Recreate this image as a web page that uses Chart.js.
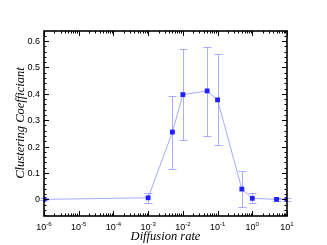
<!DOCTYPE html>
<html>
<head>
<meta charset="utf-8">
<script src="https://cdn.jsdelivr.net/npm/chart.js@4/dist/chart.umd.min.js"></script>
<style>
  html, body { margin: 0; padding: 0; background: #fff; }
  #wrap { width: 327px; height: 245px; }
</style>
</head>
<body>
<div id="wrap"><canvas id="chart" width="327" height="245"></canvas></div>
<script>
// данные
const diffusionRates = [1e-6, 1e-3, 5e-3, 1e-2, 5e-2, 1e-1, 5e-1, 1, 5, 10];
const clustering     = [0.0, 0.006, 0.255, 0.397, 0.411, 0.377, 0.039, 0.004, 0.0, 0.0];
const errHigh        = [0.004, 0.025, 0.393, 0.568, 0.578, 0.549, 0.107, 0.025, 0.007, 0.006];
const errLow         = [-0.004, -0.013, 0.116, 0.225, 0.240, 0.205, -0.028, -0.015, -0.007, -0.006];
const yTicks = [0, 0.1, 0.2, 0.3, 0.4, 0.5, 0.6];
const yTickLabels = ['0', '0.1', '0.2', '0.3', '0.4', '0.5', '0.6'];
const xExponents = [-6, -5, -4, -3, -2, -1, 0, 1];

const lineColor = 'rgba(140,140,255,0.75)';
const markColor = '#1f1fff';
const tickFont = '"Liberation Sans", Arial, sans-serif';

// рамка, засечки внутрь, подписи и планки погрешностей
const framePlugin = {
    id: 'frame',
    beforeDatasetsDraw(chart) {
        const ctx = chart.ctx;
        const xs = chart.scales.x, ys = chart.scales.y;
        ctx.save();
        ctx.strokeStyle = 'rgba(150,150,255,0.8)';
        ctx.lineWidth = 1;
        diffusionRates.forEach((r, i) => {
            const px = Math.round(xs.getPixelForValue(r)) + 0.5;
            const top = Math.round(ys.getPixelForValue(errHigh[i])) + 0.5;
            const bot = Math.round(ys.getPixelForValue(errLow[i])) + 0.5;
            ctx.beginPath();
            ctx.moveTo(px, top); ctx.lineTo(px, bot);
            ctx.moveTo(px - 4, top); ctx.lineTo(px + 4, top);
            ctx.moveTo(px - 4, bot); ctx.lineTo(px + 4, bot);
            ctx.stroke();
        });
        ctx.restore();
    },
    afterDraw(chart) {
        const ctx = chart.ctx;
        const a = chart.chartArea;
        const xs = chart.scales.x, ys = chart.scales.y;
        ctx.save();
        ctx.strokeStyle = '#000';
        ctx.lineWidth = 1;

        // засечки по Y
        for (let k = -3; k <= 31; k++) {
            const vv = k * 0.02;
            const py = Math.round(ys.getPixelForValue(vv)) + 0.5;
            const len = k % 5 === 0 ? 5 : 2.5;
            ctx.beginPath();
            ctx.moveTo(a.left, py); ctx.lineTo(a.left + len, py);
            ctx.moveTo(a.right, py); ctx.lineTo(a.right - len, py);
            ctx.stroke();
        }
        // засечки по X (логарифмические)
        for (let e = -6; e <= 1; e++) {
            for (let m = 1; m <= 9; m++) {
                const v = m * Math.pow(10, e);
                if (v > 10 * 1.0001) continue;
                const px = Math.round(xs.getPixelForValue(v)) + 0.5;
                const len = m === 1 ? 5 : 2.5;
                ctx.beginPath();
                ctx.moveTo(px, a.bottom); ctx.lineTo(px, a.bottom - len);
                ctx.moveTo(px, a.top); ctx.lineTo(px, a.top + len);
                ctx.stroke();
            }
        }
        // рамка
        ctx.lineWidth = 1.6;
        ctx.strokeRect(a.left, a.top, a.right - a.left, a.bottom - a.top);

        // подписи Y
        ctx.fillStyle = '#000';
        ctx.font = '9px ' + tickFont;
        ctx.textAlign = 'right';
        ctx.textBaseline = 'middle';
        yTicks.forEach((v, i) => {
            ctx.fillText(yTickLabels[i], a.left - 4, ys.getPixelForValue(v) + 0.5);
        });
        // подписи X: 10 со степенью
        ctx.textBaseline = 'alphabetic';
        ctx.textAlign = 'left';
        xExponents.forEach(e => {
            const px = xs.getPixelForValue(Math.pow(10, e));
            ctx.font = '9px ' + tickFont;
            const wBase = ctx.measureText('10').width;
            ctx.font = '6px ' + tickFont;
            const exp = String(e);
            const wExp = ctx.measureText(exp).width;
            const x0 = px - (wBase + wExp) / 2;
            ctx.font = '9px ' + tickFont;
            ctx.fillText('10', x0, a.bottom + 14);
            ctx.font = '6px ' + tickFont;
            ctx.fillText(exp, x0 + wBase, a.bottom + 10);
        });

        // названия осей
        ctx.font = 'italic 12.5px "Liberation Serif", "Times New Roman", serif';
        ctx.textAlign = 'center';
        ctx.textBaseline = 'alphabetic';
        ctx.fillText('Diffusion rate', (a.left + a.right) / 2, 240);
        ctx.translate(24, 123);
        ctx.rotate(-Math.PI / 2);
        ctx.fillText('Clustering Coefficiant', 0, 0);
        ctx.restore();
    }
};

new Chart(document.getElementById('chart'), {
    type: 'scatter',
    data: {
        datasets: [{
            data: diffusionRates.map((r, i) => ({ x: r, y: clustering[i] })),
            showLine: true,
            borderColor: lineColor,
            borderWidth: 1,
            pointStyle: 'rect',
            pointRadius: 3.4,
            pointBackgroundColor: markColor,
            pointBorderColor: markColor,
            pointBorderWidth: 0
        }]
    },
    options: {
        responsive: false,
        animation: false,
        events: [],
        layout: { autoPadding: false, padding: { left: 44, right: 40, top: 31, bottom: 29 } },
        plugins: { legend: { display: false }, tooltip: { enabled: false } },
        scales: {
            x: { type: 'logarithmic', min: 1e-6, max: 10, display: false },
            y: { type: 'linear', min: -0.063, max: 0.638, display: false }
        }
    },
    plugins: [framePlugin]
});
</script>
</body>
</html>
